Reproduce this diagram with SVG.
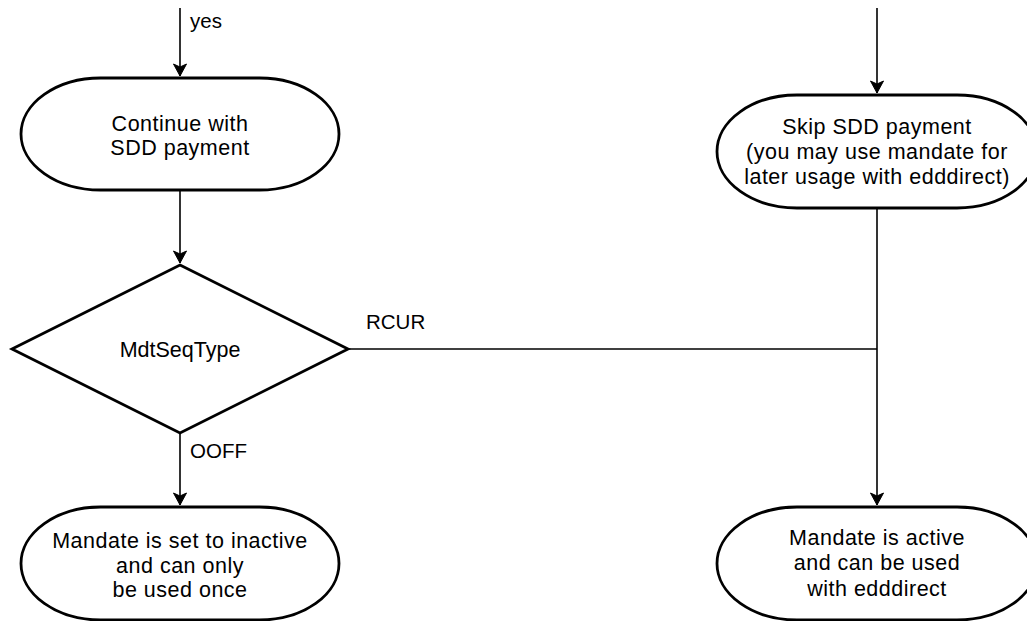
<svg xmlns="http://www.w3.org/2000/svg" width="1027" height="621" viewBox="0 0 1027 621">
<style>
.shape{fill:#ffffff;stroke:#000000;stroke-width:2.8}
.edge{fill:none;stroke:#000000;stroke-width:1.6}
.t{font-family:"Liberation Sans",Arial,sans-serif;font-size:21.5px;fill:#000000;text-anchor:middle;letter-spacing:0.5px}
.d{font-family:"Liberation Sans",Arial,sans-serif;font-size:21.5px;fill:#000000;text-anchor:middle}
.lbl{font-family:"Liberation Sans",Arial,sans-serif;font-size:20.5px;fill:#000000}
</style>
<defs>
<marker id="arr" markerUnits="userSpaceOnUse" markerWidth="16" markerHeight="16" viewBox="0 0 16 16" refX="13" refY="8" orient="auto">
<path d="M1,1.5 L13,8 L1,14.5 L4,8 Z" fill="#000000" stroke="#000000" stroke-width="1"/>
</marker>
</defs>
<rect width="1027" height="621" fill="#ffffff"/>
<g id="connectors">
<path class="edge" d="M180,8 L180,76" marker-end="url(#arr)"/>
<path class="edge" d="M180,190 L180,263" marker-end="url(#arr)"/>
<path class="edge" d="M180,433 L180,505" marker-end="url(#arr)"/>
<path class="edge" d="M877,8 L877,93" marker-end="url(#arr)"/>
<path class="edge" d="M877,208 L877,505" marker-end="url(#arr)"/>
<path class="edge" d="M348,349 L877,349"/>
<text class="lbl" x="190" y="28">yes</text>
<text class="lbl" x="366" y="329">RCUR</text>
<text class="lbl" x="190" y="458">OOFF</text>
</g>
<g id="continue">
<path class="shape" d="M100.5,78 L259.5,78 A79.5,56 0 0 1 259.5,190 L100.5,190 A79.5,56 0 0 1 100.5,78 Z"/>
<text class="t" x="180" y="131">Continue with</text>
<text class="t" x="180" y="155">SDD payment</text>
</g>
<g id="skip">
<path class="shape" d="M797,95 L957,95 A80,56.5 0 0 1 957,208 L797,208 A80,56.5 0 0 1 797,95 Z"/>
<text class="t" x="877" y="134">Skip SDD payment</text>
<text class="t" x="877" y="159">(you may use mandate for</text>
<text class="t" x="877" y="184">later usage with edddirect)</text>
</g>
<g id="decision">
<path class="shape" d="M180,265 L348,349 L180,433 L12,349 Z"/>
<text class="d" x="180" y="357">MdtSeqType</text>
</g>
<g id="inactive">
<path class="shape" d="M100.5,507 L259.5,507 A79.5,56.5 0 0 1 259.5,620 L100.5,620 A79.5,56.5 0 0 1 100.5,507 Z"/>
<text class="t" x="180" y="548">Mandate is set to inactive</text>
<text class="t" x="180" y="573">and can only</text>
<text class="t" x="180" y="597">be used once</text>
</g>
<g id="active">
<path class="shape" d="M797,507 L957,507 A80,56.5 0 0 1 957,620 L797,620 A80,56.5 0 0 1 797,507 Z"/>
<text class="t" x="877" y="545">Mandate is active</text>
<text class="t" x="877" y="570">and can be used</text>
<text class="t" x="877" y="596">with edddirect</text>
</g>
</svg>
